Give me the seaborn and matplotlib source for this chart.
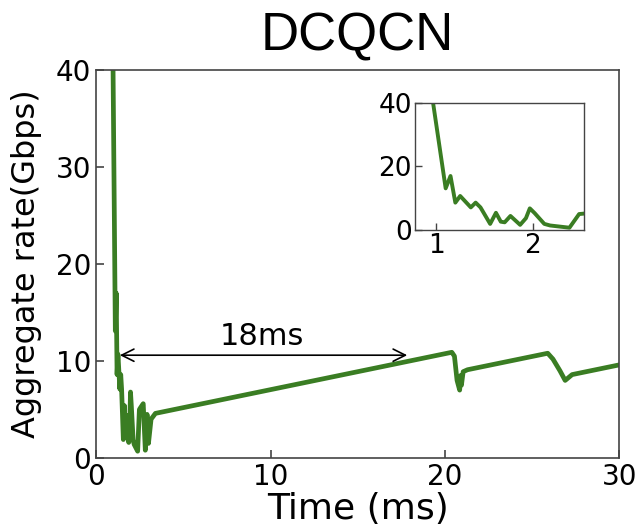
import numpy as np
import pandas as pd
import matplotlib
matplotlib.use("Agg")
import matplotlib.pyplot as plt
import seaborn as sns

# czas (ms) i przepustowosc (Gbps)
time_ms = [0.97, 1.10, 1.15, 1.20, 1.25, 1.36, 1.41, 1.46, 1.56, 1.62, 1.67, 1.71,
           1.77, 1.87, 1.93, 1.97, 2.02, 2.12, 2.18, 2.38, 2.48, 2.55, 2.70, 2.82,
           2.92, 3.00, 3.15, 3.40, 20.40, 20.55, 20.70, 20.85, 20.90, 20.95, 21.05,
           21.30, 25.90, 26.20, 26.60, 26.90, 27.30, 30.00]
rate_gbps = [40.0, 13.1, 17.0, 8.6, 10.7, 7.1, 8.6, 7.1, 1.9, 5.4, 2.6, 2.4,
             4.4, 1.6, 3.7, 6.8, 5.3, 1.9, 1.4, 0.7, 5.0, 5.2, 5.6, 0.8,
             4.5, 1.5, 4.0, 4.6, 10.9, 10.5, 8.0, 7.0, 8.5, 7.5, 8.9,
             9.1, 10.8, 10.2, 9.0, 8.0, 8.6, 9.6]

df = pd.DataFrame({'time': time_ms, 'rate': rate_gbps})

sns.set_style("white")
plt.rcParams['font.family'] = ['DejaVu Sans']
plt.rcParams['text.color'] = 'black'
plt.rcParams['axes.labelcolor'] = 'black'

color = '#3a7d23'
fig = plt.figure(figsize=(6.41, 5.31), dpi=100)
ax = fig.add_axes([0.150, 0.1375, 0.816, 0.7305])
sns.lineplot(data=df, x='time', y='rate', sort=False, color=color, linewidth=3.4, ax=ax)
ax.set_xlim(0, 30)
ax.set_ylim(0, 40)
ax.set_xticks([0, 10, 20, 30])
ax.set_yticks([0, 10, 20, 30, 40])
ax.tick_params(direction='in', bottom=True, left=True, labelsize=20, length=6, width=1.2,
               colors='#444444', labelcolor='black')
ax.set_xlabel('Time (ms)', fontsize=26, labelpad=1)
ax.set_ylabel('Aggregate rate(Gbps)', fontsize=23, labelpad=10)
for s in ax.spines.values():
    s.set_color('#444444')
    s.set_linewidth(1.2)
ax.set_title('DCQCN', fontsize=38, family='Liberation Sans', color='black', pad=14)

# strzalka 18ms
ax.annotate('', xy=(1.2, 10.6), xytext=(18.0, 10.6),
            arrowprops=dict(arrowstyle='<->', color='black', lw=1.2, mutation_scale=22))
ax.text(9.5, 11.0, '18ms', fontsize=22, ha='center', va='bottom')

# wstawka - zblizenie
ins = fig.add_axes([0.647, 0.567, 0.264, 0.239])
sns.lineplot(data=df, x='time', y='rate', sort=False, color=color, linewidth=2.8, ax=ins)
ins.set_xlim(0.78, 2.53)
ins.set_ylim(0, 40)
ins.set_xticks([1, 2])
ins.set_yticks([0, 20, 40])
ins.set_xlabel('')
ins.set_ylabel('')
ins.tick_params(direction='in', bottom=True, left=True, labelsize=19, length=5, width=1.0,
                colors='#444444', labelcolor='black', pad=2)
for s in ins.spines.values():
    s.set_color('#444444')
    s.set_linewidth(1.0)

fig.savefig('out.png', dpi=100)
